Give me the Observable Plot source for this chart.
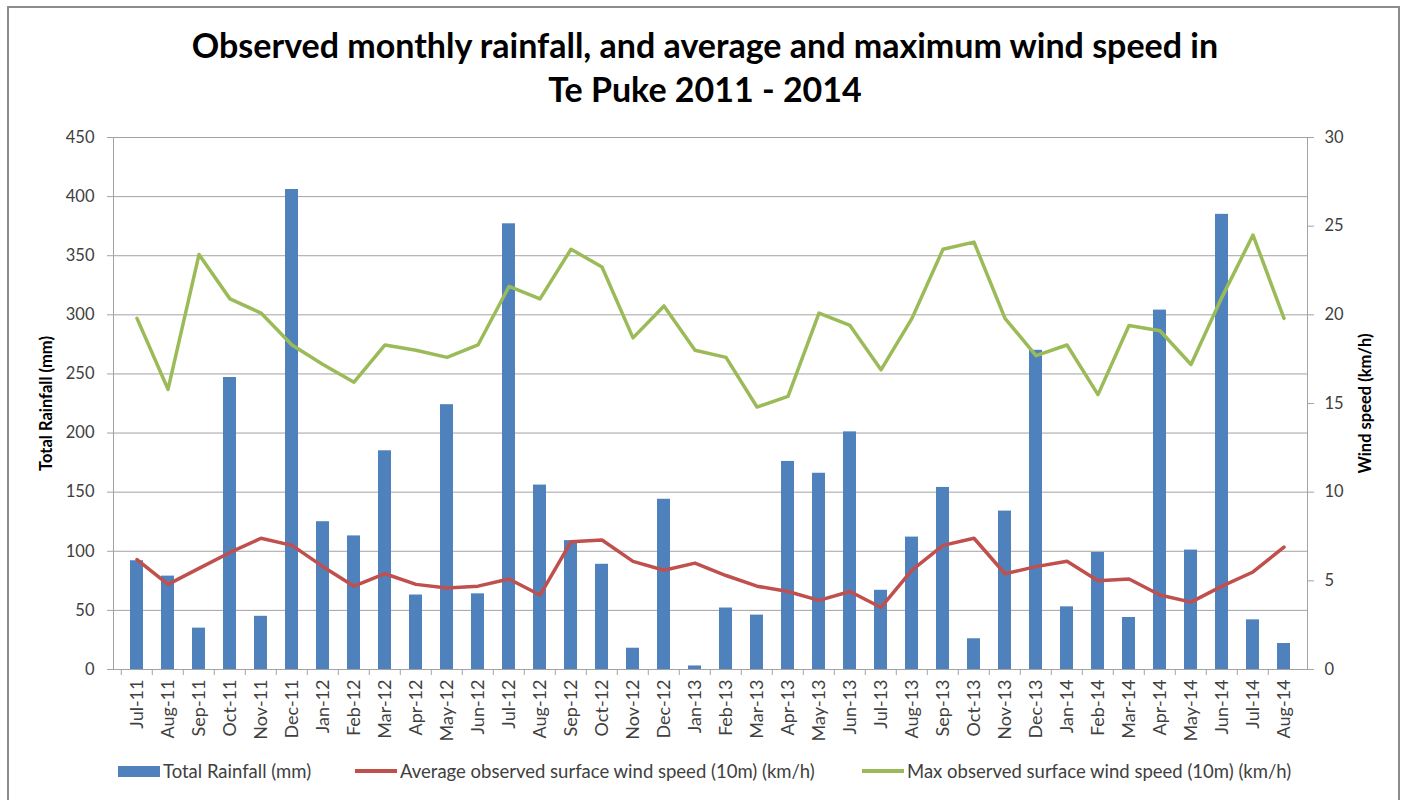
<!DOCTYPE html>
<html>
<head>
<meta charset="utf-8">
<script src="https://cdn.jsdelivr.net/npm/d3@7"></script>
<script src="https://cdn.jsdelivr.net/npm/@observablehq/plot@0.6"></script>
<style>
  body { margin: 0; background: #fff; }
  #wrap { position: relative; width: 1404px; height: 800px; overflow: hidden; font-family: Lato, "Open Sans", sans-serif; background: #fff; }
  #border { position: absolute; left: 7px; top: 6px; width: 1393px; height: 830px; border: 2px solid #8c8c8c; box-sizing: border-box; }
  #title { position: absolute; left: 0; top: 23px; width: 1410px; text-align: center; font-weight: 700; font-size: 34px; line-height: 44px; color: #000; }
  #chart { position: absolute; left: 0; top: 125px; }
  #legend { position: absolute; left: 0; top: 760px; width: 1404px; height: 26px; font-size: 18.5px; color: #404040; }
  .item { position: absolute; top: 0; display: flex; align-items: center; gap: 3px; white-space: nowrap; }
  .sw { display: inline-block; width: 42px; }
</style>
</head>
<body>
<div id="wrap">
  <div id="border"></div>
  <div id="title">Observed monthly rainfall, and average and maximum wind speed in<br>Te Puke 2011 - 2014</div>
  <div id="chart"></div>
  <div id="legend"></div>
</div>
<script>
const months = ["Jul-11","Aug-11","Sep-11","Oct-11","Nov-11","Dec-11",
  "Jan-12","Feb-12","Mar-12","Apr-12","May-12","Jun-12","Jul-12","Aug-12","Sep-12","Oct-12","Nov-12","Dec-12",
  "Jan-13","Feb-13","Mar-13","Apr-13","May-13","Jun-13","Jul-13","Aug-13","Sep-13","Oct-13","Nov-13","Dec-13",
  "Jan-14","Feb-14","Mar-14","Apr-14","May-14","Jun-14","Jul-14","Aug-14"];
const rainfall = [92, 79, 35, 247, 45, 406,
  125, 113, 185, 63, 224, 64, 377, 156, 109, 89, 18, 144,
  3, 52, 46, 176, 166, 201, 67, 112, 154, 26, 134, 270,
  53, 99, 44, 304, 101, 385, 42, 22];
const avgWind = [6.2, 4.8, 5.7, 6.6, 7.4, 7.0,
  5.8, 4.7, 5.4, 4.8, 4.6, 4.7, 5.1, 4.2, 7.2, 7.3, 6.1, 5.6,
  6.0, 5.3, 4.7, 4.4, 3.9, 4.4, 3.5, 5.6, 7.0, 7.4, 5.4, 5.8,
  6.1, 5.0, 5.1, 4.2, 3.8, 4.7, 5.5, 6.9];
const maxWind = [19.8, 15.8, 23.4, 20.9, 20.1, 18.3,
  17.2, 16.2, 18.3, 18.0, 17.6, 18.3, 21.6, 20.9, 23.7, 22.7, 18.7, 20.5,
  18.0, 17.6, 14.8, 15.4, 20.1, 19.4, 16.9, 19.8, 23.7, 24.1, 19.8, 17.7,
  18.3, 15.5, 19.4, 19.1, 17.2, 21.0, 24.5, 19.8];
const rainTicks = [0, 50, 100, 150, 200, 250, 300, 350, 400, 450];
const windTicks = [0, 5, 10, 15, 20, 25, 30];
const seriesNames = ["Total Rainfall (mm)", "Average observed surface wind speed (10m) (km/h)", "Max observed surface wind speed (10m) (km/h)"];
const colors = ["#4f81bd", "#c0504d", "#9bbb59"];

const data = months.map((m, i) => ({month: m, rain: rainfall[i], avg: avgWind[i], max: maxWind[i]}));
const ratio = 450 / 30;

const W = 1404, H = 640, mL = 113, mR = 97, mT = 12, mB = 96;
const halfStep = (W - mL - mR) / months.length / 2;
const grid = "#a3a3a3";

const chart = Plot.plot({
  width: W, height: H,
  marginLeft: mL, marginRight: mR, marginTop: mT, marginBottom: mB,
  style: {fontFamily: "Lato, 'Open Sans', sans-serif", fontSize: "16px", color: "#404040", background: "transparent"},
  x: {type: "band", domain: months, paddingInner: 0.58, paddingOuter: 0.29, label: null},
  y: {domain: [0, 450], label: null},
  marks: [
    Plot.ruleY(rainTicks, {stroke: grid, strokeWidth: 1}),
    Plot.frame({stroke: grid, strokeWidth: 1}),
    Plot.barY(data, {x: "month", y: "rain", fill: colors[0]}),
    Plot.lineY(data, {x: "month", y: d => d.avg * ratio, stroke: colors[1], strokeWidth: 3.5}),
    Plot.lineY(data, {x: "month", y: d => d.max * ratio, stroke: colors[2], strokeWidth: 3.5}),
    Plot.axisY(rainTicks, {anchor: "left", tickSize: 6, tickPadding: 13, stroke: grid, label: null, fontSize: 16.5}),
    Plot.axisY(windTicks.map(d => d * ratio), {anchor: "right", tickSize: 6, tickPadding: 11, stroke: grid, tickFormat: d => d / ratio, label: null, fontSize: 16.5}),
    Plot.axisX({tickSize: 6, text: null, stroke: grid, dx: -halfStep}),
    Plot.axisX({tickSize: 0, tickRotate: -90, tickPadding: 10, label: null, fontSize: 18}),
    Plot.text(["Total Rainfall (mm)"], {frameAnchor: "left", textAnchor: "middle", dx: -67, rotate: -90, fontWeight: "bold", fill: "#000", fontSize: 16.5}),
    Plot.text(["Wind speed (km/h)"], {frameAnchor: "right", textAnchor: "middle", dx: 58, rotate: -90, fontWeight: "bold", fill: "#000", fontSize: 16.5})
  ]
});
document.getElementById("chart").append(chart);

const legendLefts = [118, 355, 862];
const legend = document.getElementById("legend");
seriesNames.forEach((name, i) => {
  const item = document.createElement("div");
  item.className = "item";
  item.style.left = legendLefts[i] + "px";
  const sw = document.createElement("span");
  sw.className = "sw";
  sw.style.background = colors[i];
  sw.style.height = i === 0 ? "11px" : "4px";
  const t = document.createElement("span");
  t.textContent = name;
  item.append(sw, t);
  legend.append(item);
});
</script>
</body>
</html>
